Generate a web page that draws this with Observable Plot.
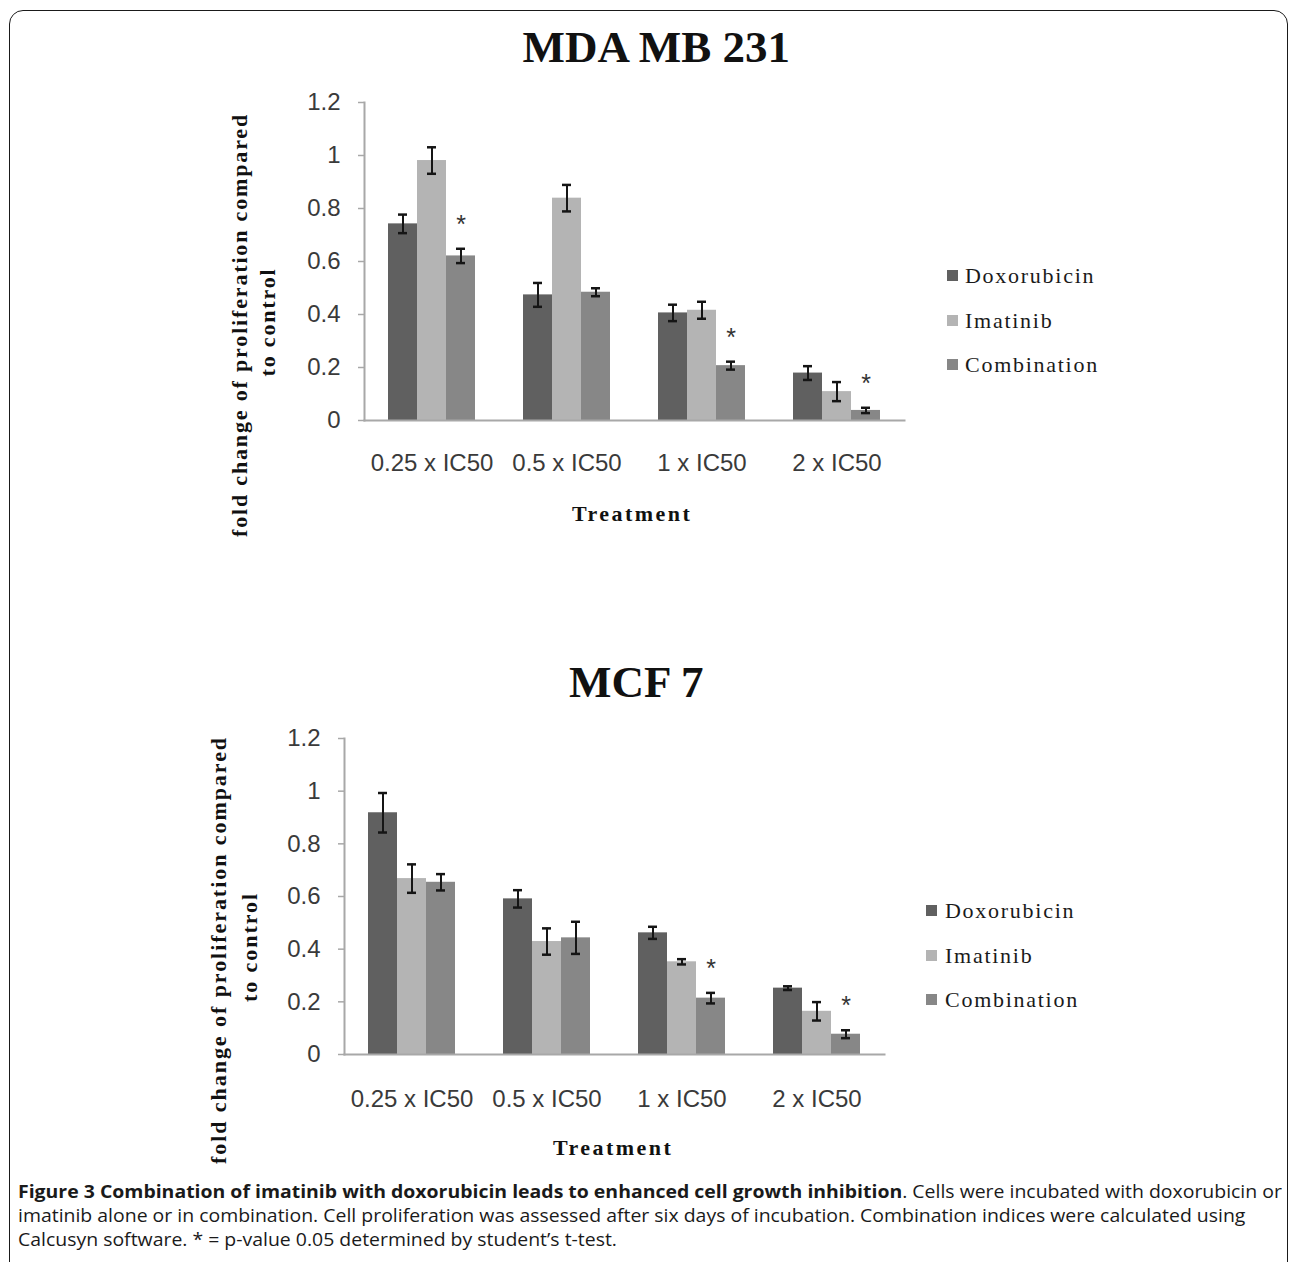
<!DOCTYPE html>
<html><head><meta charset="utf-8">
<script src="https://cdn.jsdelivr.net/npm/d3@7"></script>
<script src="https://cdn.jsdelivr.net/npm/@observablehq/plot@0.6"></script>
<style>
body{margin:0;background:#fff;}
#page{position:relative;width:1290px;height:1262px;overflow:hidden;background:#fff;}
.abs{position:absolute;white-space:nowrap;}
.serif{font-family:"Liberation Serif","DejaVu Serif",serif;}
.sans{font-family:"Liberation Sans",Arial,sans-serif;}
#border{position:absolute;left:9px;top:10px;width:1279px;height:1300px;border:1.5px solid #1a1a1a;border-radius:14px;box-sizing:border-box;}
.chart{position:absolute;left:0;}
.caption{position:absolute;left:18px;font-family:"Open Sans",sans-serif;font-size:17.5px;color:#1a1a1a;white-space:nowrap;transform-origin:left center;line-height:22px;}
</style></head>
<body><div id="page"><div id="border"></div></div>
<script>
// ---------- data ----------
const categories = ["0.25 x IC50", "0.5 x IC50", "1 x IC50", "2 x IC50"];
const series = ["Doxorubicin", "Imatinib", "Combination"];
const colors = ["#606060", "#b4b4b4", "#878787"];
const yTicks = [0, 0.2, 0.4, 0.6, 0.8, 1, 1.2];
const xLabel = "Treatment";
const yLabel1 = "fold change of proliferation compared";
const yLabel2 = "to control";

const mdaTitle = "MDA MB 231";
const mdaDox = [0.742, 0.474, 0.406, 0.179];
const mdaDoxErr = [0.035, 0.045, 0.031, 0.026];
const mdaIma = [0.981, 0.839, 0.416, 0.109];
const mdaImaErr = [0.05, 0.05, 0.032, 0.036];
const mdaComb = [0.621, 0.484, 0.207, 0.038];
const mdaCombErr = [0.027, 0.015, 0.015, 0.01];
const mdaStars = ["0.25 x IC50", "1 x IC50", "2 x IC50"];

const mcfTitle = "MCF 7";
const mcfDox = [0.918, 0.591, 0.462, 0.252];
const mcfDoxErr = [0.075, 0.033, 0.023, 0.007];
const mcfIma = [0.668, 0.429, 0.352, 0.164];
const mcfImaErr = [0.054, 0.05, 0.01, 0.035];
const mcfComb = [0.654, 0.443, 0.214, 0.077];
const mcfCombErr = [0.031, 0.061, 0.02, 0.015];
const mcfStars = ["1 x IC50", "2 x IC50"];

const captionLines = [
  ["Figure 3 Combination of imatinib with doxorubicin leads to enhanced cell growth inhibition", ". Cells were incubated with doxorubicin or"],
  ["", "imatinib alone or in combination. Cell proliferation was assessed after six days of incubation. Combination indices were calculated using"],
  ["", "Calcusyn software. * = p-value 0.05 determined by student\u2019s t-test."]
];

// ---------- chart ----------
const sans = "'Liberation Sans', Arial, sans-serif";
const axisGray = "#a8a8a8";
const textGray = "#3a3a3a";
const ink = "#151515";

function makeChart({values, errors, stars, ml, mr, mt, mb, h, tickPad}) {
  const rows = [];
  categories.forEach((c, i) => series.forEach((s, j) =>
    rows.push({cat: c, series: s, v: values[j][i], e: errors[j][i]})));
  const starRows = rows.filter(d => d.series === "Combination" && stars.includes(d.cat));
  return Plot.plot({
    width: 1290, height: h,
    marginLeft: ml, marginRight: mr, marginTop: mt, marginBottom: mb,
    style: {fontFamily: sans, background: "transparent", overflow: "visible"},
    fx: {domain: categories, padding: 0, label: null},
    x: {domain: series, paddingInner: 0, paddingOuter: 0.78, axis: null},
    y: {domain: [0, 1.2], axis: null},
    color: {domain: series, range: colors},
    marks: [
      Plot.barY(rows, {fx: "cat", x: "series", y: "v", fill: "series"}),
      Plot.ruleX(rows, {fx: "cat", x: "series", y1: d => d.v - d.e, y2: d => d.v + d.e, stroke: ink, strokeWidth: 2}),
      Plot.tickY(rows, {fx: "cat", x: "series", y: d => d.v + d.e, stroke: ink, strokeWidth: 2.5, insetLeft: 10, insetRight: 10}),
      Plot.tickY(rows, {fx: "cat", x: "series", y: d => d.v - d.e, stroke: ink, strokeWidth: 2.5, insetLeft: 10, insetRight: 10}),
      Plot.text(starRows, {fx: "cat", x: "series", y: d => d.v + d.e, text: () => "*", dy: -24, fontSize: 25, fill: "#333", fontFamily: sans}),
      Plot.frame({anchor: "left", facet: "super", stroke: axisGray, strokeWidth: 2}),
      Plot.frame({anchor: "bottom", facet: "super", stroke: axisGray, strokeWidth: 2}),
      Plot.axisY({ticks: yTicks, tickSize: 6, tickPadding: 18, tickFormat: d => String(d), stroke: axisGray, strokeWidth: 1.5, fill: textGray, fontSize: 24, fontFamily: sans, label: null}),
      Plot.axisFx({anchor: "bottom", tickSize: 0, tickPadding: tickPad, fill: textGray, fontSize: 24, fontFamily: sans, label: null})
    ]
  });
}

const page = document.getElementById("page");

const top1 = makeChart({
  values: [mdaDox, mdaIma, mdaComb], errors: [mdaDoxErr, mdaImaErr, mdaCombErr], stars: mdaStars,
  ml: 362, mr: 1290 - 905, mt: 102, mb: 60, h: 480, tickPad: 33
});
top1.classList.add("chart"); top1.style.top = "0px";
page.appendChild(top1);

const top2 = makeChart({
  values: [mcfDox, mcfIma, mcfComb], errors: [mcfDoxErr, mcfImaErr, mcfCombErr], stars: mcfStars,
  ml: 342, mr: 1290 - 885, mt: 98, mb: 480 - (1054 - 640), h: 480, tickPad: 35
});
top2.classList.add("chart"); top2.style.top = "640px";
page.appendChild(top2);

// ---------- text helpers ----------
function span(text, cls, style) {
  const s = document.createElement("div");
  s.className = "abs " + cls;
  s.textContent = text;
  Object.assign(s.style, style);
  page.appendChild(s);
  return s;
}
function center(el, cx, cy, rot) {
  const w = el.offsetWidth, h = el.offsetHeight;
  el.style.left = (cx - w / 2) + "px";
  el.style.top = (cy - h / 2) + "px";
  if (rot) el.style.transform = `rotate(${rot}deg)`;
}
function fitSpacing(el, target) {
  const n = el.textContent.length;
  const w = el.offsetWidth;
  const ls = (target - w) / n;
  el.style.letterSpacing = ls + "px";
  return ls;
}

// titles
const t1 = span(mdaTitle, "serif", {fontSize: "45px", fontWeight: "bold", color: "#111", lineHeight: "1"});
center(t1, 656, 47);
const t2 = span(mcfTitle, "serif", {fontSize: "45px", fontWeight: "bold", color: "#111", lineHeight: "1"});
center(t2, 636.5, 682);

// x labels
const x1 = span(xLabel, "serif", {fontSize: "22px", fontWeight: "bold", color: "#111", lineHeight: "1"});
fitSpacing(x1, 120); center(x1, 632, 514);
const x2 = span(xLabel, "serif", {fontSize: "22px", fontWeight: "bold", color: "#111", lineHeight: "1"});
fitSpacing(x2, 120); center(x2, 613, 1148);

// y labels (two lines, rotated)
function yLab(cx, cy, target, gap) {
  const a = span(yLabel1, "serif", {fontSize: "22px", fontWeight: "bold", color: "#111", lineHeight: "1"});
  const ls = fitSpacing(a, target);
  const b = span(yLabel2, "serif", {fontSize: "22px", fontWeight: "bold", color: "#111", lineHeight: "1", letterSpacing: ls + "px"});
  center(a, cx - gap / 2, cy, -90);
  center(b, cx + gap / 2, cy - 3, -90);
}
yLab(253.5, 325, 424, 27);
yLab(234, 950, 428, 31);

// legends
function legend(sqx, tx, rowsY) {
  let ls = null;
  series.forEach((s, i) => {
    const sq = document.createElement("div");
    Object.assign(sq.style, {position: "absolute", left: (sqx - 5.5) + "px", top: (rowsY[i] - 5.5) + "px", width: "11px", height: "11px", background: colors[i]});
    page.appendChild(sq);
    const t = span(s, "serif", {fontSize: "22px", color: "#1a1a1a", lineHeight: "1"});
    if (ls === null) ls = fitSpacing(t, 130); else t.style.letterSpacing = ls + "px";
    t.style.left = tx + "px";
    t.style.top = (rowsY[i] - t.offsetHeight / 2 + 1) + "px";
  });
}
legend(952.5, 965, [275, 320, 364]);
legend(931.5, 945, [910, 955, 999]);

// caption
const capY = [1191, 1215, 1239];
const capEls = captionLines.map((parts, i) => {
  const d = document.createElement("div");
  d.className = "caption";
  if (parts[0]) { const b = document.createElement("b"); b.textContent = parts[0]; d.appendChild(b); }
  d.appendChild(document.createTextNode(parts[1]));
  page.appendChild(d);
  d.style.top = (capY[i] - 11) + "px";
  return d;
});
const sc = 1264 / capEls[0].offsetWidth;
capEls.forEach(d => d.style.transform = `scaleX(${sc})`);
</script>
</body></html>
